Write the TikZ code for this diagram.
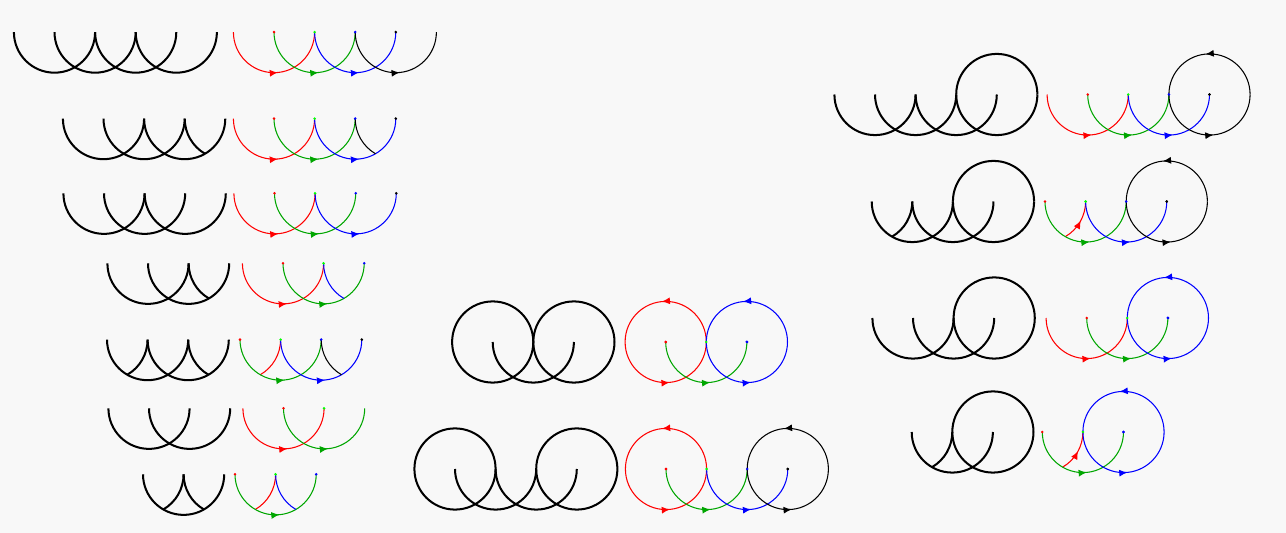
\documentclass[tikz,border=0pt]{standalone}
\usepackage{tikz}
\usepackage{xcolor}
\usetikzlibrary{arrows.meta, decorations.markings}

\definecolor{bgcol}{RGB}{248,248,248}
\colorlet{linered}{red}
\colorlet{linegreen}{green!65!black}
\colorlet{lineblue}{blue}
\colorlet{lineblack}{black}
\colorlet{dotred}{red}
\colorlet{dotgreen}{green}
\colorlet{dotblue}{blue}
\colorlet{dotblack}{black}

\newcommand{\arcrad}{0.812cm}
% #1 black origin, #2 coloured origin, #3 level, #4 arcs k/start/end/colour/tip
\newcommand{\arcfig}[4]{%
  \foreach \kk/\sa/\ea/\cl/\tp in {#4} {
    \draw[plainarc] ({#1+\kk*40.6},{-#3}) ++(\sa:\arcrad) arc[start angle=\sa, end angle=\ea, radius=\arcrad];
    \draw[colarc, draw=line\cl, \tp] ({#2+\kk*40.6},{-#3}) ++(\sa:\arcrad) arc[start angle=\sa, end angle=\ea, radius=\arcrad];
  }
  \foreach \kk/\sa/\ea/\cl/\tp in {#4}
    \fill[fill=dot\cl] ({#2+\kk*40.6},{-#3}) circle[radius=0.8pt];
}

\begin{document}
\begin{tikzpicture}[x=0.02cm, y=0.02cm,
    plainarc/.style={draw=black, line width=1.15pt},
    colarc/.style={line width=0.6pt},
    midarrow/.style={postaction={decorate}, decoration={markings, mark=at position 0.53 with {\arrow{Latex[length=4.6pt,width=4pt]}}}},
    noarrow/.style={}
]
    % background
    \fill[bgcol] (0,0) rectangle (1286,-533);
    \useasboundingbox (0,0) rectangle (1286,-533);

    % left column
    \arcfig{54.5}{274}{32.1}{0/180/360/red/midarrow, 1/180/360/green/midarrow, 2/180/360/blue/midarrow, 3/180/360/black/midarrow}
    \arcfig{103.5}{274}{118.6}{0/180/360/red/midarrow, 1/180/360/green/midarrow, 2/180/360/blue/midarrow, 3/180/240/black/noarrow}
    \arcfig{104}{274.5}{193.3}{0/180/360/red/midarrow, 1/180/360/green/midarrow, 2/180/360/blue/midarrow}
    \fill[dotblack] ({274.5+3*40.6},-193.3) circle[radius=0.8pt];
    \arcfig{148}{283}{263.3}{0/180/360/red/midarrow, 1/180/360/green/midarrow, 2/180/240/blue/noarrow}
    \arcfig{107}{240}{339.6}{0/300/360/red/noarrow, 1/180/360/green/midarrow, 2/180/360/blue/midarrow, 3/180/240/black/noarrow}
    \arcfig{149}{283.5}{408.3}{0/180/360/red/midarrow, 1/180/360/green/midarrow}
    \arcfig{143}{235}{474.3}{0/300/360/red/noarrow, 1/180/360/green/midarrow, 2/180/240/blue/noarrow}

    % middle column
    \arcfig{492.7}{665.7}{342}{0/0/180/red/midarrow, 0/180/360/red/midarrow, 1/180/360/green/midarrow, 2/0/180/blue/midarrow, 2/180/360/blue/midarrow}
    \arcfig{455}{666}{469}{0/0/180/red/midarrow, 0/180/360/red/midarrow, 1/180/360/green/midarrow, 2/180/360/blue/midarrow, 3/0/180/black/midarrow, 3/180/360/black/midarrow}

    % right column
    \arcfig{875}{1087.7}{94.5}{0/180/360/red/midarrow, 1/180/360/green/midarrow, 2/180/360/blue/midarrow, 3/0/180/black/midarrow, 3/180/360/black/midarrow}
    \arcfig{871.7}{1045}{201.5}{0/300/360/red/midarrow, 1/180/360/green/midarrow, 2/180/360/blue/midarrow, 3/0/180/black/midarrow, 3/180/360/black/midarrow}
    \arcfig{913}{1086.7}{318}{0/180/360/red/midarrow, 1/180/360/green/midarrow, 2/0/180/blue/midarrow, 2/180/360/blue/midarrow}
    \arcfig{911.7}{1042.3}{432}{0/300/360/red/midarrow, 1/180/360/green/midarrow, 2/0/180/blue/midarrow, 2/180/360/blue/midarrow}
\end{tikzpicture}
\end{document}
